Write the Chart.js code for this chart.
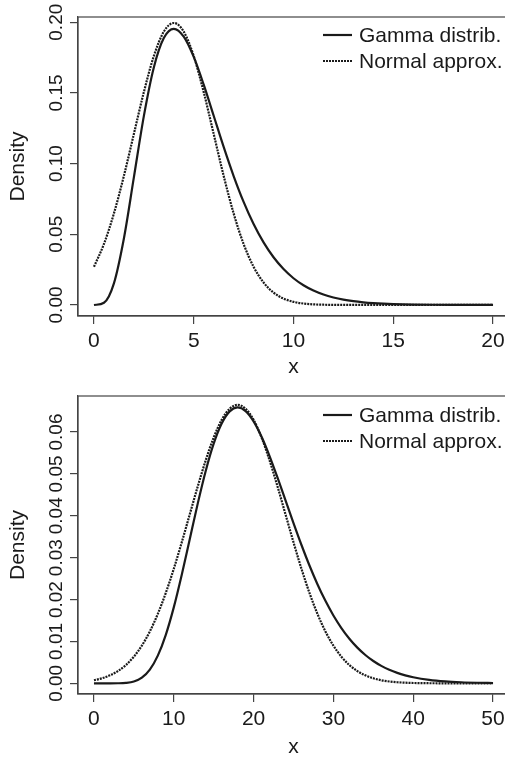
<!DOCTYPE html>
<html><head><meta charset="utf-8">
<script src="https://cdn.jsdelivr.net/npm/chart.js@4.4.0/dist/chart.umd.min.js"></script>
<style>
html,body{margin:0;padding:0;background:#fff;overflow:hidden;width:505px;height:760px;}
.panel{position:absolute;left:0;width:520px;height:380px;}
</style></head><body>
<div class="panel" style="top:0"><canvas id="c1" width="520" height="380"></canvas></div>
<div class="panel" style="top:380px"><canvas id="c2" width="520" height="380"></canvas></div>
<script>
// ---------- data ----------
const seriesLabels = ['Gamma distrib.', 'Normal approx.'];

// top panel
const xTop = [0,0.5,1,1.5,2,2.5,3,3.5,4,4.5,5,5.5,6,6.5,7,7.5,8,8.5,9,9.5,10,10.5,11,11.5,12,12.5,13,13.5,14,14.5,15,16,17,18,19,20];
const gammaTop = [0,0.001580,0.015328,0.047067,0.090224,0.133602,0.168031,0.188810,0.195367,0.189808,0.175467,0.155820,0.133853,0.111819,0.091226,0.072916,0.057252,0.044255,0.033737,0.025403,0.018917,0.013946,0.010189,0.007382,0.005309,0.003791,0.002690,0.001897,0.001331,0.000929,0.000645,0.000307,0.000144,0.0000666,0.0000304,0.0000137];
const normalTop = [0.026995,0.043140,0.064759,0.091325,0.120985,0.150569,0.176033,0.193334,0.199471,0.193334,0.176033,0.150569,0.120985,0.091325,0.064759,0.043140,0.026995,0.015870,0.008764,0.004547,0.002216,0.001015,0.000436,0.000176,0.000067,0.000024,0.000008,0.0000025,0.0000007,0.0000002,0,0,0,0,0,0];
const xTicksTop = [0,5,10,15,20];
const xTickLabelsTop = ['0','5','10','15','20'];
const yTicksTop = [0,0.05,0.10,0.15,0.20];
const yTickLabelsTop = ['0.00','0.05','0.10','0.15','0.20'];

// bottom panel
const xBottom = [0,1,2,3,4,5,6,7,8,9,10,11,12,13,14,15,16,17,18,19,20,21,22,23,24,25,26,27,28,29,30,31,32,33,34,35,36,37,38,39,40,42,44,46,48,50];
const gammaBottom = [0,0,0.0000005,0.0000118,0.0000954,0.000431,0.001350,0.003279,0.006615,0.011582,0.018132,0.025931,0.034418,0.042904,0.050701,0.057219,0.062036,0.064932,0.065876,0.064999,0.062553,0.058858,0.054261,0.049101,0.043681,0.038256,0.033027,0.028132,0.023671,0.019689,0.016203,0.013201,0.010655,0.008525,0.006764,0.005326,0.004162,0.003231,0.002491,0.001909,0.001454,0.000830,0.000464,0.000255,0.000137,0.000073];
const normalBottom = [0.000739,0.001201,0.001899,0.002921,0.004370,0.006359,0.008999,0.012385,0.016580,0.021586,0.027335,0.033666,0.040329,0.046985,0.053241,0.058678,0.062897,0.065573,0.066490,0.065573,0.062897,0.058678,0.053241,0.046985,0.040329,0.033666,0.027335,0.021586,0.016580,0.012385,0.008999,0.006359,0.004370,0.002921,0.001899,0.001201,0.000739,0.000442,0.000257,0.000146,0.000080,0.000022,0.0000056,0.0000012,0.0000002,0];
const xTicksBottom = [0,10,20,30,40,50];
const xTickLabelsBottom = ['0','10','20','30','40','50'];
const yTicksBottom = [0,0.01,0.02,0.03,0.04,0.05,0.06];
const yTickLabelsBottom = ['0.00','0.01','0.02','0.03','0.04','0.05','0.06'];

// ---------- style ----------
const FONT = '"Liberation Sans", Arial, Helvetica, sans-serif';
const INK = '#1a1a1a';
const AX = '#444444';
const FS = 21;
const FS_Y = 19;

const framePlugin = {
  id: 'frame',
  afterDraw(chart) {
    const ctx = chart.ctx, a = chart.chartArea, o = chart.options.plugins.frame;
    ctx.save();
    ctx.strokeStyle = AX; ctx.lineWidth = 1.2;
    ctx.strokeRect(a.left, a.top, a.right - a.left, a.bottom - a.top);
    const ys = chart.scales.y;
    ctx.fillStyle = INK;
    ctx.font = FS_Y + 'px ' + FONT;
    ctx.textAlign = 'center'; ctx.textBaseline = 'middle';
    o.yTicks.forEach((v, i) => {
      const py = ys.getPixelForValue(v);
      ctx.save(); ctx.translate(o.yLabelX, py); ctx.rotate(-Math.PI / 2);
      ctx.fillText(o.yLabels[i], 0, 0); ctx.restore();
    });
    ctx.font = FS + 'px ' + FONT;
    chart.data.datasets.forEach((ds, i) => {
      const y = o.legendY + i * o.legendGap;
      ctx.beginPath();
      ctx.setLineDash(ds.borderDash || []);
      ctx.strokeStyle = ds.borderColor; ctx.lineWidth = ds.borderWidth;
      ctx.moveTo(o.legendX, y); ctx.lineTo(o.legendX + 29, y); ctx.stroke();
      ctx.setLineDash([]);
      ctx.textAlign = 'left'; ctx.textBaseline = 'middle';
      ctx.fillText(ds.label, o.legendX + 36, y + 1);
    });
    ctx.restore();
  }
};

function makeChart(id, xs, gam, nor, xTicks, xLabels, yTicks, yLabels, xMin, xMax, yMin, yMax, padTop, xAxisH, legendY) {
  return new Chart(document.getElementById(id), {
    type: 'line',
    data: { datasets: [
      { label: seriesLabels[0], data: xs.map((x, i) => ({x: x, y: gam[i]})),
        borderColor: INK, borderWidth: 2.2, pointRadius: 0, cubicInterpolationMode: 'monotone', fill: false },
      { label: seriesLabels[1], data: xs.map((x, i) => ({x: x, y: nor[i]})),
        borderColor: INK, borderWidth: 2.2, borderDash: [2, 1], pointRadius: 0, cubicInterpolationMode: 'monotone', fill: false }
    ]},
    options: {
      responsive: false, animation: false, events: [],
      layout: { padding: { top: padTop, right: 11, bottom: 0, left: 0 } },
      plugins: {
        legend: { display: false }, tooltip: { enabled: false },
        frame: { yTicks: yTicks, yLabels: yLabels, yLabelX: 57, legendX: 323, legendY: legendY, legendGap: 26 }
      },
      scales: {
        x: {
          type: 'linear', min: xMin, max: xMax,
          afterBuildTicks: s => { s.ticks = xTicks.map(v => ({ value: v })); },
          afterFit: s => { s.height = xAxisH; },
          grid: { drawOnChartArea: false, drawTicks: true, tickLength: 8, color: AX, lineWidth: 1.2 },
          border: { display: true, color: AX, width: 1.2 },
          ticks: { font: { family: FONT, size: FS }, color: INK, padding: 5, maxRotation: 0, minRotation: 0, autoSkip: false,
                   callback: (v) => { const k = xTicks.indexOf(v); return k >= 0 ? xLabels[k] : ''; } },
          title: { display: true, text: 'x', font: { family: FONT, size: FS }, color: INK, padding: { top: 0, bottom: 0 } }
        },
        y: {
          type: 'linear', min: yMin, max: yMax,
          afterBuildTicks: s => { s.ticks = yTicks.map(v => ({ value: v })); },
          afterFit: s => { s.width = 78; },
          grid: { drawOnChartArea: false, drawTicks: true, tickLength: 8, color: AX, lineWidth: 1.2 },
          border: { display: true, color: AX, width: 1.2 },
          ticks: { display: false },
          title: { display: true, text: 'Density', font: { family: FONT, size: FS }, color: INK, padding: { top: 6, bottom: 0 } }
        }
      }
    },
    plugins: [framePlugin]
  });
}

makeChart('c1', xTop, gammaTop, normalTop, xTicksTop, xTickLabelsTop, yTicksTop, yTickLabelsTop,
          -0.8, 20.8, -0.0078, 0.2037, 17, 64, 35);
makeChart('c2', xBottom, gammaBottom, normalBottom, xTicksBottom, xTickLabelsBottom, yTicksBottom, yTickLabelsBottom,
          -2, 52, -0.00255, 0.0686, 16, 66, 35);
</script>
</body></html>
